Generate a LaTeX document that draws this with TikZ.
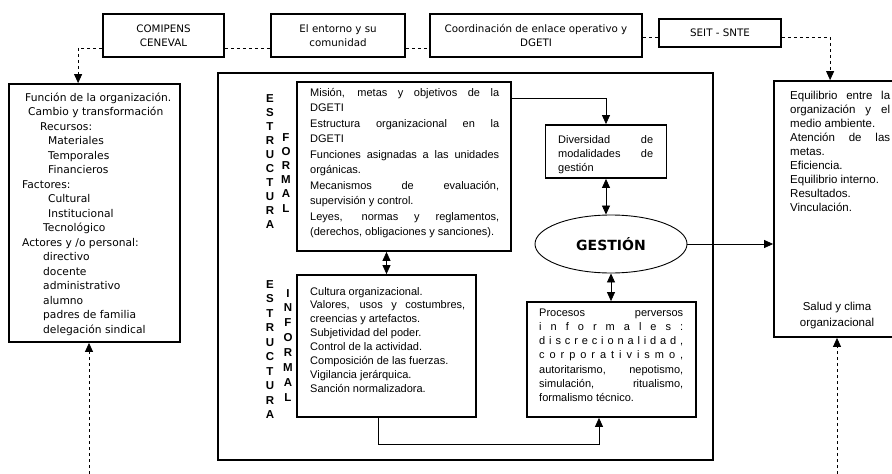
\documentclass[tikz,border=0pt]{standalone}
\usepackage{fontspec}
\setmainfont{Liberation Sans}
\newfontfamily\dvs{DejaVu Sans}
\usetikzlibrary{arrows.meta,calc,shapes.geometric}
\newcommand{\jl}[1]{\hbox to \linewidth{#1}}
\begin{document}
\begin{tikzpicture}[x=1pt,y=-1pt,
  box/.style={draw, line width=1.8pt, inner sep=0pt},
  conn/.style={line width=0.8pt},
  dsh/.style={line width=0.8pt, dash pattern=on 3.5pt off 2.5pt},
  tip/.style={-{Triangle[length=9pt,width=8pt]}},
  dtip/.style={{Triangle[length=9pt,width=8pt]}-{Triangle[length=9pt,width=8pt]}},
  txt/.style={inner sep=0pt, anchor=base west},
  topbox/.style={box, align=center, font=\dvs\fontsize{10.3}{13.5}\selectfont},
  vlet/.style={inner sep=0pt, anchor=base},
]
\useasboundingbox (0,0) rectangle (892,474);

% top boxes
\node[topbox, minimum width=121pt, minimum height=43pt] (b1) at (163.5,35.5) {COMIPENS\\CENEVAL};
\node[topbox, minimum width=134pt, minimum height=43pt] (b2) at (338,35.5) {El entorno y su\\comunidad};
\node[topbox, minimum width=212pt, minimum height=43pt] (b3) at (536,35.5) {Coordinación de enlace operativo y\\DGETI};
\node[topbox, minimum width=122pt, minimum height=28pt] (b4) at (720,33) {SEIT - SNTE};

% left box
\node[box, minimum width=171pt, minimum height=258pt] (lbox) at (94.5,213) {};
\node[txt, font=\dvs\fontsize{10.7}{14.5}\selectfont] (ltext) at (22,101) {\parbox[t]{155pt}{%
\hspace*{3pt}Función de la organización.\\
\hspace*{6pt}Cambio y transformación\\
\hspace*{18pt}Recursos:\\
\hspace*{26pt}Materiales\\
\hspace*{26pt}Temporales\\
\hspace*{26pt}Financieros\\
Factores:\\
\hspace*{26pt}Cultural\\
\hspace*{26pt}Institucional\\
\hspace*{21pt}Tecnológico\\
Actores y /o personal:\\
\hspace*{21pt}directivo\\
\hspace*{21pt}docente\\
\hspace*{21pt}administrativo\\
\hspace*{21pt}alumno\\
\hspace*{21pt}padres de familia\\
\hspace*{21pt}delegación sindical}};

% center box
\node[box, minimum width=495pt, minimum height=387pt] (cbox) at (465.5,266.5) {};

% formal
\node[box, minimum width=214pt, minimum height=169pt] (fbox) at (404,166.5) {};
\node[txt, font=\fontsize{11}{15.5}\selectfont] (ftext) at (310,96) {\parbox[t]{189pt}{%
\jl{Misión, metas y objetivos de la}
\jl{DGETI\hfill}
\jl{Estructura organizacional en la}
\jl{DGETI\hfill}
\jl{Funciones asignadas a las unidades}
\jl{orgánicas.\hfill}
\jl{Mecanismos de evaluación,}
\jl{supervisión y control.\hfill}
\jl{Leyes, normas y reglamentos,}
\jl{(derechos, obligaciones y sanciones).\hfill}}};
\node[vlet, font=\bfseries\fontsize{11.5}{14.1}\selectfont] (ve1) at (270,102) {\parbox[t]{14pt}{\centering E\\S\\T\\R\\U\\C\\T\\U\\R\\A}};
\node[vlet, font=\bfseries\fontsize{11.5}{14.2}\selectfont] (vf) at (286,141) {\parbox[t]{14pt}{\centering F\\O\\R\\M\\A\\L}};

% informal
\node[box, minimum width=179pt, minimum height=142pt] (ibox) at (386.5,346) {};
\node[txt, font=\fontsize{11}{13.9}\selectfont] (itext) at (310,295) {\parbox[t]{155pt}{%
\jl{Cultura organizacional.\hfill}
\jl{Valores, usos y costumbres,}
\jl{creencias y artefactos.\hfill}
\jl{Subjetividad del poder.\hfill}
\jl{Control de la actividad.\hfill}
\jl{Composición de las fuerzas.\hfill}
\jl{Vigilancia jerárquica.\hfill}
\jl{Sanción normalizadora.\hfill}}};
\node[vlet, font=\bfseries\fontsize{11.5}{14.5}\selectfont] (ve2) at (270,288) {\parbox[t]{14pt}{\centering E\\S\\T\\R\\U\\C\\T\\U\\R\\A}};
\node[vlet, font=\bfseries\fontsize{11.5}{14.9}\selectfont] (vi) at (288,297) {\parbox[t]{14pt}{\centering I\\N\\F\\O\\R\\M\\A\\L}};

% diversidad
\node[box, minimum width=121pt, minimum height=53pt] (div) at (606,151.5) {};
\node[txt, font=\fontsize{11}{14}\selectfont] (dtext) at (558,143) {\parbox[t]{95pt}{%
\jl{Diversidad de}
\jl{modalidades de}
\jl{gestión\hfill}}};

% gestion
\node[draw, ellipse, line width=0.9pt, minimum width=152pt, minimum height=58pt, inner sep=0pt,
      font=\dvs\bfseries\fontsize{14}{16}\selectfont] (ges) at (611,244) {GESTIÓN};

% procesos
\node[box, minimum width=169pt, minimum height=115pt] (proc) at (611.5,359.5) {};
\node[txt, font=\fontsize{11}{14.3}\selectfont] (ptext) at (539,316) {\parbox[t]{144pt}{%
\jl{Procesos\hfill perversos}
\jl{i\hfill n\hfill f\hfill o\hfill r\hfill m\hfill a\hfill l\hfill e\hfill s\hfill :}
\jl{d\hfill i\hfill s\hfill c\hfill r\hfill e\hfill c\hfill i\hfill o\hfill n\hfill a\hfill l\hfill i\hfill d\hfill a\hfill d\hfill ,}
\jl{c\hfill o\hfill r\hfill p\hfill o\hfill r\hfill a\hfill t\hfill i\hfill v\hfill i\hfill s\hfill m\hfill o\hfill ,}
\jl{autoritarismo,\hfill nepotismo,}
\jl{simulación,\hfill ritualismo,}
\jl{formalismo técnico.\hfill}}};

% right box
\node[box, minimum width=120pt, minimum height=256pt] (rbox) at (834,209) {};
\node[txt, font=\fontsize{11.5}{14}\selectfont] (rtext) at (790,99) {\parbox[t]{100pt}{%
\jl{Equilibrio entre la}
\jl{organización y el}
\jl{medio ambiente.\hfill}
\jl{Atención de las}
\jl{metas.\hfill}
\jl{Eficiencia.\hfill}
\jl{Equilibrio interno.\hfill}
\jl{Resultados.\hfill}
\jl{Vinculación.\hfill}}};
\node[inner sep=0pt, anchor=base, font=\fontsize{11.5}{16}\selectfont] (salud) at (837,310) {\parbox[t]{100pt}{\centering Salud y clima\\organizacional}};

% dashed connectors
\coordinate (s1) at ($(b4.west)+(0,4)$);
\coordinate (s2) at ($(b4.east)+(0,4)$);
\coordinate (lin) at ($(lbox.north west)+(70,0)$);
\coordinate (rin) at ($(rbox.north west)+(57,0)$);
\coordinate (lb) at (89,474);
\coordinate (rb) at (837,474);
\draw[dsh, tip] ([yshift=10pt]b1.south west) -| (lin);
\draw[dsh] ([yshift=10pt]b1.south east) -- ([yshift=10pt]b2.south west);
\draw[dsh] ([yshift=10pt]b2.south east) -- ([yshift=10pt]b3.south west);
\draw[dsh] (b3.east |- s1) -- (s1);
\draw[dsh, tip] (s2) -| (rin);
\draw[dsh, tip] (lb) -- (lb |- lbox.south);
\draw[dsh, tip] (rb) -- (rb |- rbox.south);

% solid connectors
\coordinate (fo) at ($(fbox.north east)+(0,17)$);
\draw[conn, tip] (fo) -| (div.north);
\draw[conn, dtip] (div.south) -- (div.south |- ges.north);
\draw[conn, dtip] (ges.south) -- (ges.south |- proc.north);
\draw[conn, dtip] (ibox.north |- fbox.south) -- (ibox.north);
\coordinate (io) at ($(ibox.south)+(-8.5,0)$);
\coordinate (pi) at ($(proc.south)+(-12.5,0)$);
\draw[conn, tip] (io) -- ++(0,26) -| (pi);
\draw[conn, tip] (ges.east) -- (ges.east -| rbox.west);
\end{tikzpicture}
\end{document}
